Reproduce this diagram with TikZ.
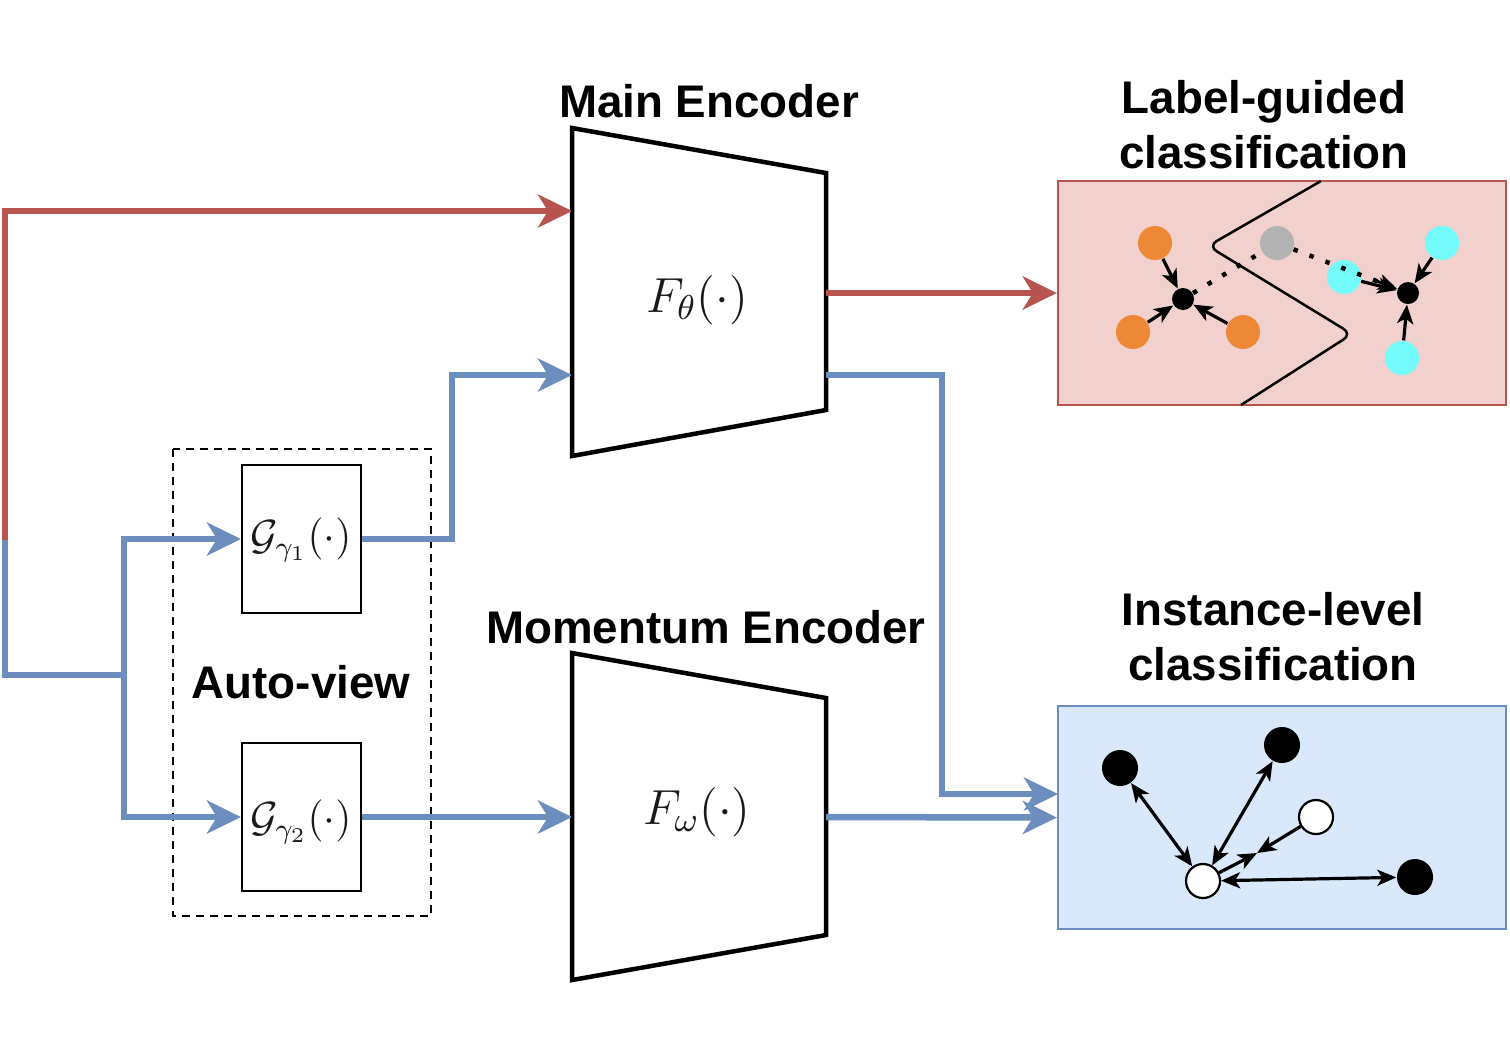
\RequirePackage{fix-cm}
\documentclass[tikz,border=0pt]{standalone}
\usepackage{fontspec}
\setmainfont{Liberation Sans}
\usetikzlibrary{arrows.meta}
\definecolor{redS}{HTML}{B85450}
\definecolor{redF}{HTML}{F2D0CE}
\definecolor{blueS}{HTML}{6C8EBF}
\definecolor{blueF}{HTML}{DAE8FC}
\definecolor{orangeC}{HTML}{ED8936}
\definecolor{cyanC}{HTML}{73FBFB}
\definecolor{grayC}{HTML}{B3B3B3}
\begin{document}
\begin{tikzpicture}[x=0.01cm,y=-0.01cm,
  title/.style={font=\fontsize{13}{15.6}\selectfont\bfseries, align=center, inner sep=0},
  mathlbl/.style={font=\fontsize{14}{17}\selectfont, text=black!90, inner sep=0},
  gmathlbl/.style={font=\fontsize{12}{15}\selectfont, text=black!90, inner sep=0},
  bigtip/.style={-{Stealth[length=0.34cm,width=0.33cm,inset=0.1cm]}},
  bigred/.style={draw=redS, line width=0.065cm, bigtip},
  blueline/.style={draw=blueS, line width=0.065cm},
  bigblue/.style={blueline, bigtip},
  enc/.style={draw=black, line width=0.045cm, line join=miter},
  gbox/.style={draw=black, line width=0.02cm, minimum width=1.19cm, minimum height=1.48cm, inner sep=0},
  smalltip/.style={-{Stealth[length=0.19cm,width=0.16cm,inset=0.05cm]}},
  bothtips/.style={{Stealth[length=0.19cm,width=0.16cm,inset=0.05cm]}-{Stealth[length=0.19cm,width=0.16cm,inset=0.05cm]}},
  sarrow/.style={draw=black, line width=0.032cm, smalltip},
  pt/.style={circle, inner sep=0, minimum size=0.34cm},
  ctr/.style={circle, fill=black, inner sep=0, minimum size=0.22cm},
  blk/.style={circle, fill=black, inner sep=0, minimum size=0.36cm},
  hol/.style={circle, draw=black, fill=white, line width=0.022cm, inner sep=0, minimum size=0.34cm}
]
\useasboundingbox (0,0) rectangle (1510,1044);

% ---------- Encoders ----------
\coordinate (meTL) at (572,128);
\coordinate (meTR) at (826,173);
\coordinate (meBR) at (826,410);
\coordinate (meBL) at (572,456);
\draw[enc] (meTL) -- (meTR) -- (meBR) -- (meBL) -- cycle;
\node[mathlbl] (meLbl) at (697,300) {$F_\theta(\cdot)$};
\node[title] (meTitle) at (709,101) {Main Encoder};
\coordinate (meInR) at (572,211);
\coordinate (meInB) at (572,375);
\coordinate (meOutR) at (826,293);
\coordinate (meOutB) at (826,375);

\coordinate (moTL) at (572,653);
\coordinate (moTR) at (826,698);
\coordinate (moBR) at (826,935);
\coordinate (moBL) at (572,980);
\draw[enc] (moTL) -- (moTR) -- (moBR) -- (moBL) -- cycle;
\node[mathlbl] (moLbl) at (697,812) {$F_\omega(\cdot)$};
\node[title] (moTitle) at (706,627) {Momentum Encoder};
\coordinate (moIn) at (572,817);
\coordinate (moOut) at (826,817);

% ---------- Auto-view ----------
\draw[black, line width=0.02cm, dash pattern=on 0.08cm off 0.06cm] (173,449) rectangle (431,916);
\node[gbox] (g1) at (301.5,539) {};
\node[gbox] (g2) at (301.5,817) {};
\node[gmathlbl] (g1Lbl) at (301,540) {$\mathcal{G}_{\gamma_1}(\cdot)$};
\node[gmathlbl] (g2Lbl) at (301,822) {$\mathcal{G}_{\gamma_2}(\cdot)$};
\node[title] (avTitle) at (301,682) {Auto-view};

% ---------- Output boxes ----------
\node[draw=redS, fill=redF, line width=0.02cm, minimum width=4.48cm, minimum height=2.24cm, inner sep=0] (lbox) at (1282,293) {};
\node[draw=blueS, fill=blueF, line width=0.02cm, minimum width=4.48cm, minimum height=2.23cm, inner sep=0] (ibox) at (1282,817.5) {};
\node[title] (lTitle) at (1264,125) {Label-guided\\classification};
\node[title] (iTitle) at (1273,637) {Instance-level\\classification};
\coordinate (iIn1) at (1058,794);

% ---------- Connectors ----------
\coordinate (src) at (5,540);
\coordinate (srcB) at (5,675);
\coordinate (split) at (124,675);
\coordinate (j1) at (452,375);
\coordinate (j2) at (942,794);

\draw[bigred] (src) |- (meInR);
\draw[bigred] (meOutR) -- (lbox.west);

\draw[blueline] (src) -- (srcB) -- (split);
\draw[bigblue] (split) |- (g1.west);
\draw[bigblue] (split) |- (g2.west);
\draw[bigblue] (g1.east) -| (j1) -- (meInB);
\draw[bigblue] (g2.east) -- (moIn);
\draw[bigblue] (meOutB) -| (j2) -- (iIn1);
\draw[bigblue] (moOut) -- (ibox.west);

% ---------- Label-guided contents ----------
\draw[black, line width=0.025cm, rounded corners=0.1cm] (1321,181) -- (1208,246) -- (1352,334) -- (1241,405);
\node[pt, fill=orangeC] (o1) at (1155,243) {};
\node[pt, fill=orangeC] (o2) at (1133,332) {};
\node[pt, fill=orangeC] (o3) at (1243,332) {};
\node[pt, fill=grayC] (gr) at (1277,243) {};
\node[pt, fill=cyanC] (cy1) at (1344,277) {};
\node[pt, fill=cyanC] (cy2) at (1442,243) {};
\node[pt, fill=cyanC] (cy3) at (1402,358) {};
\node[ctr] (c1) at (1183,299) {};
\node[ctr] (c2) at (1408,293) {};
\draw[sarrow] (o1) -- (c1);
\draw[sarrow] (o2) -- (c1);
\draw[sarrow] (o3) -- (c1);
\draw[black, line width=0.045cm, dash pattern=on 0.045cm off 0.125cm] (c1) -- (gr);
\draw[black, line width=0.045cm, dash pattern=on 0.045cm off 0.125cm] (gr) -- (c2);
\draw[sarrow] (cy1) -- (c2);
\draw[sarrow] (cy2) -- (c2);
\draw[sarrow] (cy3) -- (c2);
\path (gr) -- (c2) coordinate[pos=0.8] (dotEnd);
\draw[black, line width=0.03cm, smalltip] (dotEnd) -- (c2);

% ---------- Instance-level contents ----------
\node[blk] (b1) at (1120,768) {};
\node[blk] (b2) at (1282,745) {};
\node[blk] (b3) at (1415,877) {};
\node[hol] (h1) at (1203,881) {};
\node[hol] (h2) at (1316,817) {};
\coordinate (mid) at (1257,853);
\draw[black, line width=0.032cm, bothtips] (h1) -- (b1);
\draw[black, line width=0.032cm, bothtips] (h1) -- (b2);
\draw[black, line width=0.032cm, bothtips] (h1) -- (b3);
\draw[sarrow] (h1) -- (mid);
\draw[sarrow] (h2) -- (mid);
\end{tikzpicture}
\end{document}
